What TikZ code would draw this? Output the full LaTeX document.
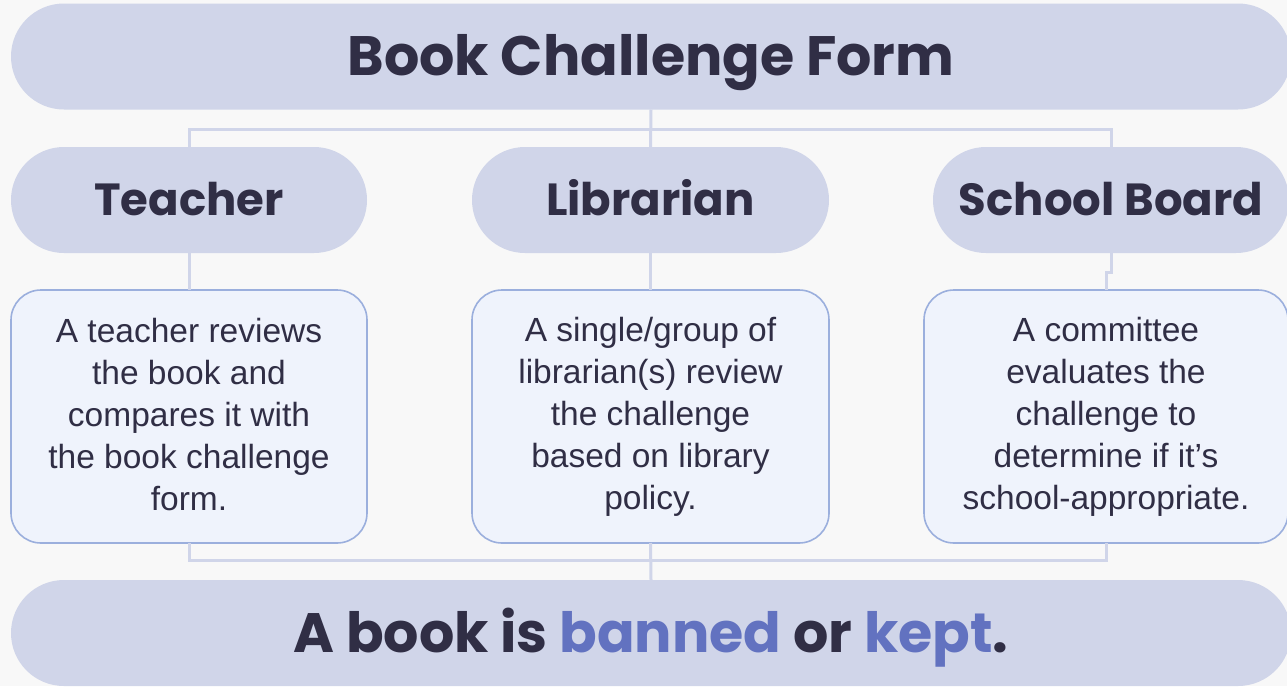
\documentclass[tikz,border=0pt]{standalone}
\usepackage{fontspec}
\usepackage{xcolor}
\usepackage{tikz}
\usetikzlibrary{positioning, calc}
\setmainfont{Liberation Sans}
\newfontfamily\headfont{Poppins}[UprightFont=* SemiBold, BoldFont=* Bold]
\definecolor{pillblue}{HTML}{D0D5E9}
\definecolor{cardfill}{HTML}{EFF3FC}
\definecolor{cardline}{HTML}{9BAFDD}
\definecolor{inkdark}{HTML}{302E45}
\definecolor{inkblue}{HTML}{6272C0}
\definecolor{pagegray}{HTML}{F8F8F8}
\newcommand\cardstrut{\rule[-4pt]{0pt}{38pt}}

\begin{document}
\begin{tikzpicture}[
    x=1pt, y=-1pt,
    pill/.style={rectangle, rounded corners=53pt, fill=pillblue, inner sep=0pt,
                 outer sep=0pt, minimum height=106pt, text=inkdark, text depth=0pt},
    card/.style={rectangle, rounded corners=30pt, draw=cardline, fill=cardfill,
                 line width=1.6pt, inner sep=0pt, outer sep=0pt, minimum width=356pt,
                 minimum height=253pt, align=center, text=inkdark,
                 font=\fontsize{33.5}{42}\selectfont,
                 execute at begin node=\cardstrut, execute at end node=\cardstrut},
    head/.style={font=\headfont\bfseries\fontsize{45}{50}\selectfont, text height=31.5pt},
    banner/.style={font=\headfont\bfseries\fontsize{55.5}{60}\selectfont, text height=38.5pt},
    link/.style={draw=pillblue, line width=3pt}
  ]
    \fill[pagegray] (0,0) rectangle (1287,686);
    \useasboundingbox (0,0) rectangle (1287,686);
    \clip (0,0) rectangle (1287,686);
    \node[pill, banner, minimum width=1280pt] (form) at (651,56.5) {Book Challenge Form};
    \node[pill, head, minimum width=356pt] (teach) at (189,200)   {Teacher};
    \node[pill, head, minimum width=357pt] (lib)   at (650.5,200) {Librarian};
    \node[pill, head, minimum width=356pt] (board) at (1111,200)  {School Board};
    \node[card] (tcard) at (189,416.5)
        {A teacher reviews\\the book and\\compares it with\\the book challenge\\form.};
    \node[card, minimum width=357pt] (lcard) at (650.5,416.5)
        {A single/group of\\librarian(s) review\\the challenge\\based on library\\policy.};
    \node[card, minimum width=364pt] (bcard) at (1106,416.5)
        {A committee\\evaluates the\\challenge to\\determine if it’s\\school-appropriate.};
    \node[pill, banner, minimum width=1280pt] (verdict) at (651,633)
        {A book is \textcolor{inkblue}{banned} or \textcolor{inkblue}{kept}.};
    \coordinate (topjoin) at (651,129);
    \coordinate (lowjoin) at (651,560);
    \draw[link] (form.south) -- (lib.north);
    \draw[link] (teach.north) |- (topjoin) -| (board.north);
    \draw[link] (teach.south) -- (tcard.north);
    \draw[link] (lib.south) -- (lcard.north);
    \draw[link] (board.south) -- ++(0,19) -| (bcard.north);
    \draw[link] (tcard.south) |- (lowjoin) -| (bcard.south);
    \draw[link] (lcard.south) -- (verdict.north);
  \end{tikzpicture}
\end{document}
